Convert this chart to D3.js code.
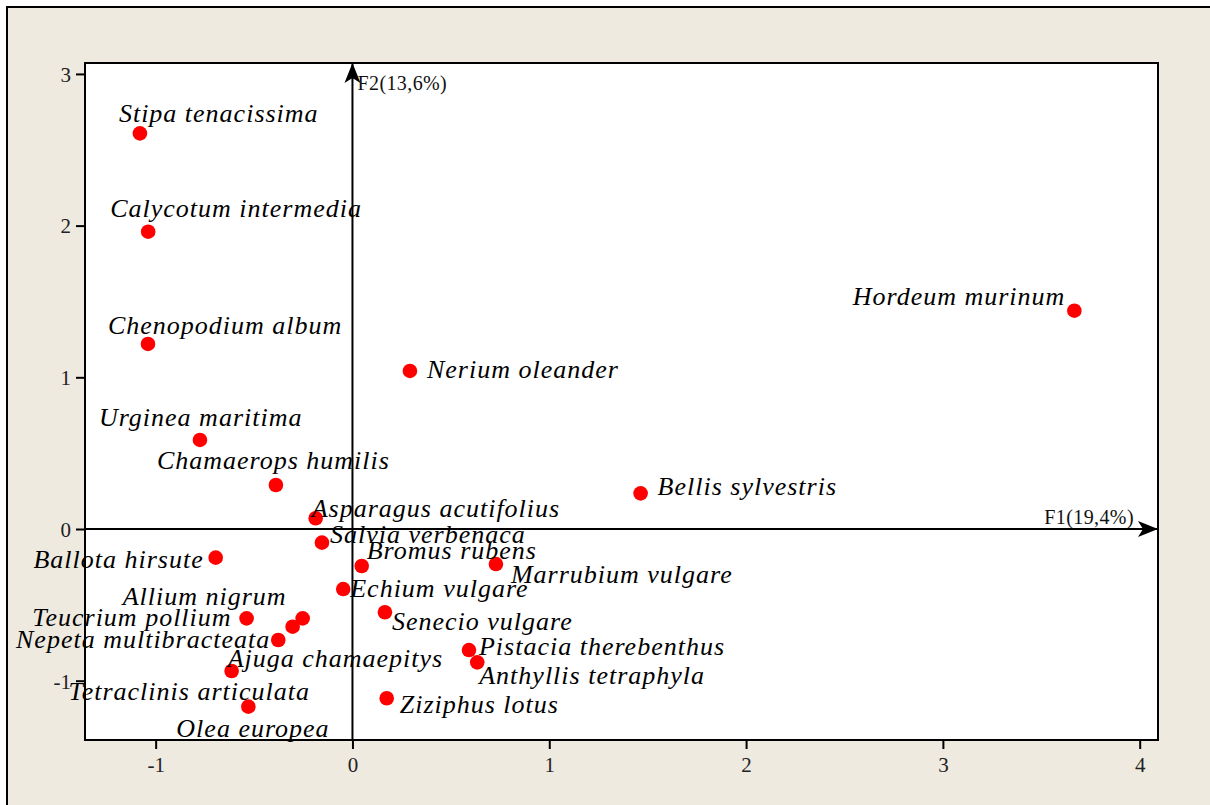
<!DOCTYPE html>
<html>
<head>
<meta charset="utf-8">
<script src="https://cdn.jsdelivr.net/npm/d3@7"></script>
<style>
  html, body { margin: 0; padding: 0; background: #ffffff; }
  svg { display: block; }
</style>
</head>
<body>
<script>
// ---- data ----
const species = [
  "Stipa tenacissima", "Calycotum intermedia", "Chenopodium album", "Hordeum murinum",
  "Nerium oleander", "Urginea maritima", "Chamaerops humilis", "Bellis sylvestris",
  "Asparagus acutifolius", "Salvia verbenaca", "Ballota hirsute", "Bromus rubens",
  "Marrubium vulgare", "Echium vulgare", "Senecio vulgare", "Allium nigrum",
  "Teucrium pollium", "Nepeta multibracteata", "Ajuga chamaepitys", "Pistacia therebenthus",
  "Anthyllis tetraphyla", "Tetraclinis articulata", "Ziziphus lotus", "Olea europea"
];
const f1Values = [
  -1.080, -1.038, -1.039, 3.668,
   0.292, -0.775, -0.389, 1.464,
  -0.187, -0.155, -0.695, 0.047,
   0.729, -0.047, 0.165, -0.253,
  -0.538, -0.377, -0.304, 0.592,
   0.634, -0.614, 0.174, -0.529
];
const f2Values = [
   2.608, 1.960, 1.220, 1.439,
   1.042, 0.587, 0.290, 0.235,
   0.071, -0.090, -0.189, -0.244,
  -0.231, -0.396, -0.549, -0.589,
  -0.589, -0.732, -0.644, -0.798,
  -0.879, -0.936, -1.116, -1.171
];
const xTicks = [-1, 0, 1, 2, 3, 4];
const yTicks = [-1, 0, 1, 2, 3];
const xAxisTitle = "F1(19,4%)";
const yAxisTitle = "F2(13,6%)";

// ---- label layout (pixel offsets from each point) ----
const labelDx = [-21, -38, -40, -9, 17, -101, -119, 17, -4, 8, -12, 5, 15, 7, 7, -16, -15, -8, -65, 10, 2, -163, 13, -72];
const labelDy = [-11, -15, -10, -6, 7, -14, -16, 2, -1, 0, 10, -7, 19, 8, 18, -13, 8, 8, 40, 5, 22, 29, 15, 30];
const labelAnchor = ["start","start","start","end","start","start","start","start","start","start","end","start",
                     "start","start","start","end","end","end","start","start","start","start","start","start"];

// ---- drawing ----
const W = 1210, H = 805;
const plot = { left: 85, top: 63, right: 1158, bottom: 740 };
const beige = "#EEEAE0";
const serif = "'Liberation Serif', 'Times New Roman', serif";

const svg = d3.select("body").append("svg").attr("width", W).attr("height", H);

// outer frame
svg.append("rect").attr("x", 7).attr("y", 7).attr("width", W + 20).attr("height", H + 20)
  .attr("fill", beige).attr("stroke", "#000").attr("stroke-width", 2);

const x = d3.scaleLinear().domain([-1.359, 4.093]).range([plot.left, plot.right]);
const y = d3.scaleLinear().domain([-1.391, 3.072]).range([plot.bottom, plot.top]);

// plot area
svg.append("rect").attr("x", plot.left).attr("y", plot.top)
  .attr("width", plot.right - plot.left).attr("height", plot.bottom - plot.top)
  .attr("fill", "#fff").attr("stroke", "#000").attr("stroke-width", 2);

// axes with ticks
const xAxis = d3.axisBottom(x).tickValues(xTicks).tickFormat(d => String(d)).tickSize(9).tickPadding(8);
const yAxis = d3.axisLeft(y).tickValues(yTicks).tickFormat(d => String(d)).tickSize(9).tickPadding(5);

const gx = svg.append("g").attr("transform", `translate(0,${plot.bottom})`).call(xAxis);
const gy = svg.append("g").attr("transform", `translate(${plot.left},0)`).call(yAxis);
[gx, gy].forEach(g => {
  g.attr("font-size", null).attr("font-family", null);
  g.select(".domain").remove();
  g.selectAll(".tick line").attr("stroke", "#000").attr("stroke-width", 2);
  g.selectAll(".tick text").attr("fill", "#222").style("font-family", serif).style("font-size", "21px");
});
gy.selectAll(".tick text").attr("dy", "0.35em");

// arrows at origin
const defs = svg.append("defs");
defs.append("marker").attr("id", "arrow").attr("viewBox", "0 0 20 16").attr("refX", 20).attr("refY", 8)
  .attr("markerWidth", 20).attr("markerHeight", 16).attr("markerUnits", "userSpaceOnUse").attr("orient", "auto")
  .append("path").attr("d", "M0,0 L20,8 L0,16 L5,8 Z").attr("fill", "#000");

svg.append("line").attr("x1", plot.left).attr("x2", plot.right).attr("y1", y(0)).attr("y2", y(0))
  .attr("stroke", "#000").attr("stroke-width", 2).attr("marker-end", "url(#arrow)");
svg.append("line").attr("x1", x(0)).attr("x2", x(0)).attr("y1", plot.bottom).attr("y2", plot.top)
  .attr("stroke", "#000").attr("stroke-width", 2).attr("marker-end", "url(#arrow)");

svg.append("text").attr("x", plot.right - 24).attr("y", y(0) - 5).attr("text-anchor", "end")
  .style("font-family", serif).style("font-size", "20px").style("letter-spacing", "0.4px").attr("fill", "#111")
  .text(xAxisTitle);
svg.append("text").attr("x", x(0) + 5).attr("y", plot.top + 27)
  .style("font-family", serif).style("font-size", "20px").style("letter-spacing", "0.4px").attr("fill", "#111")
  .text(yAxisTitle);

// points
const pts = species.map((s, i) => ({ name: s, f1: f1Values[i], f2: f2Values[i], dx: labelDx[i], dy: labelDy[i], anchor: labelAnchor[i] }));

svg.append("g").selectAll("circle").data(pts).join("circle")
  .attr("cx", d => x(d.f1)).attr("cy", d => y(d.f2)).attr("r", 7.3).attr("fill", "#FF0000");

svg.append("g").selectAll("text").data(pts).join("text")
  .attr("x", d => x(d.f1) + d.dx).attr("y", d => y(d.f2) + d.dy)
  .attr("text-anchor", d => d.anchor)
  .style("font-family", serif).style("font-style", "italic").style("font-size", "26px")
  .style("letter-spacing", "1px").attr("fill", "#000")
  .text(d => d.name);
</script>
</body>
</html>
